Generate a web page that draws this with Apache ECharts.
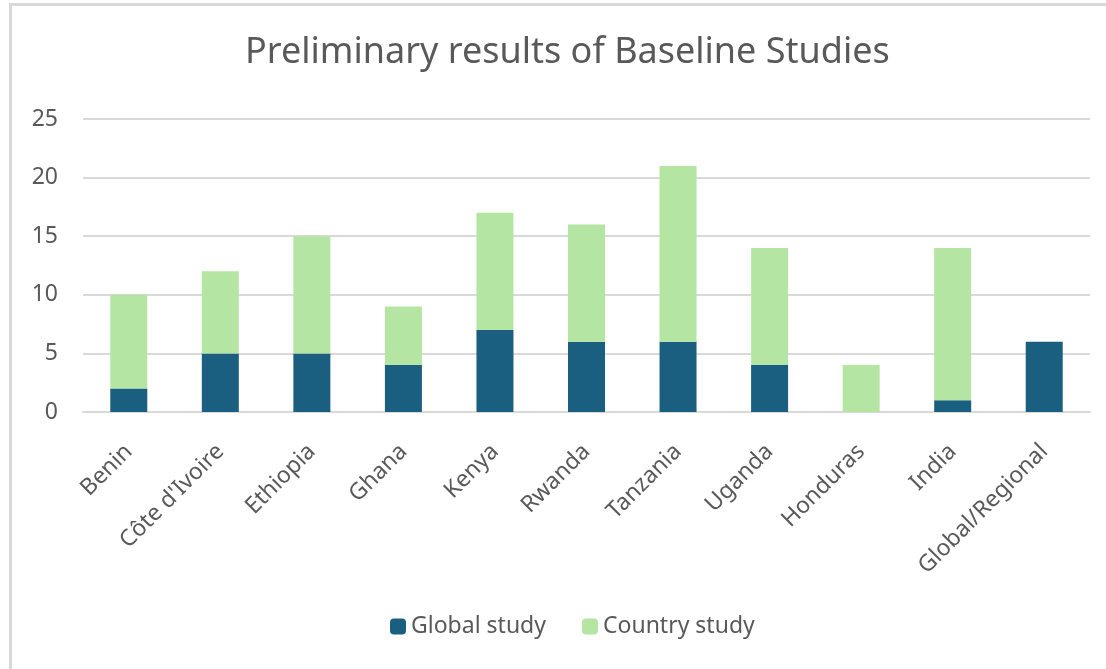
<!DOCTYPE html>
<html>
<head>
<meta charset="utf-8">
<script src="https://cdn.jsdelivr.net/npm/echarts@6/dist/echarts.min.js"></script>
<style>
  html, body { margin: 0; padding: 0; background: #fff; }
  #chart { width: 1106px; height: 669px; }
</style>
</head>
<body>
<div id="chart"></div>
<script>
var categories = ['Benin', 'Côte d\'Ivoire', 'Ethiopia', 'Ghana', 'Kenya', 'Rwanda',
  'Tanzania', 'Uganda', 'Honduras', 'India', 'Global/Regional'];
var globalStudy = [2, 5, 5, 4, 7, 6, 6, 4, 0, 1, 6];
var countryStudy = [8, 7, 10, 5, 10, 10, 15, 10, 4, 13, 0];
var yTicks = [0, 5, 10, 15, 20, 25];

var chart = echarts.init(document.getElementById('chart'));
var textColor = '#595959';
var font = 'Noto Sans';

var option = {
  backgroundColor: '#fff',
  animation: false,
  graphic: [{
    type: 'rect',
    shape: { x: 10.5, y: 4.5, width: 1200, height: 1000 },
    style: { fill: 'none', stroke: '#d9d9d9', lineWidth: 3 },
    silent: true
  }],
  title: {
    text: 'Preliminary results of Baseline Studies',
    left: 240,
    top: 30,
    textStyle: { color: textColor, fontFamily: font, fontSize: 36, fontWeight: 'normal' }
  },
  legend: {
    bottom: 26,
    left: 385,
    itemWidth: 16,
    itemHeight: 16,
    itemGap: 36,
    textStyle: { color: textColor, fontFamily: font, fontSize: 23 },
    data: ['Global study', 'Country study']
  },
  grid: { left: 83, right: 16, top: 119, bottom: 257, containLabel: false },
  xAxis: {
    type: 'category',
    data: categories,
    axisTick: { show: false },
    axisLine: { lineStyle: { color: '#d9d9d9', width: 2 } },
    axisLabel: {
      rotate: 45,
      interval: 0,
      margin: 36,
      color: textColor,
      fontFamily: font,
      fontSize: 23
    }
  },
  yAxis: {
    type: 'value',
    min: yTicks[0],
    max: yTicks[yTicks.length - 1],
    interval: 5,
    axisLine: { show: false },
    axisTick: { show: false },
    splitLine: { lineStyle: { color: '#d9d9d9', width: 2 } },
    axisLabel: { color: textColor, fontFamily: font, fontSize: 23, margin: 25 }
  },
  series: [
    {
      name: 'Global study',
      type: 'bar',
      stack: 'total',
      barWidth: 37,
      itemStyle: { color: '#1a5e80' },
      data: globalStudy
    },
    {
      name: 'Country study',
      type: 'bar',
      stack: 'total',
      barWidth: 37,
      itemStyle: { color: '#b4e5a2' },
      data: countryStudy
    }
  ]
};
chart.setOption(option);
</script>
</body>
</html>
